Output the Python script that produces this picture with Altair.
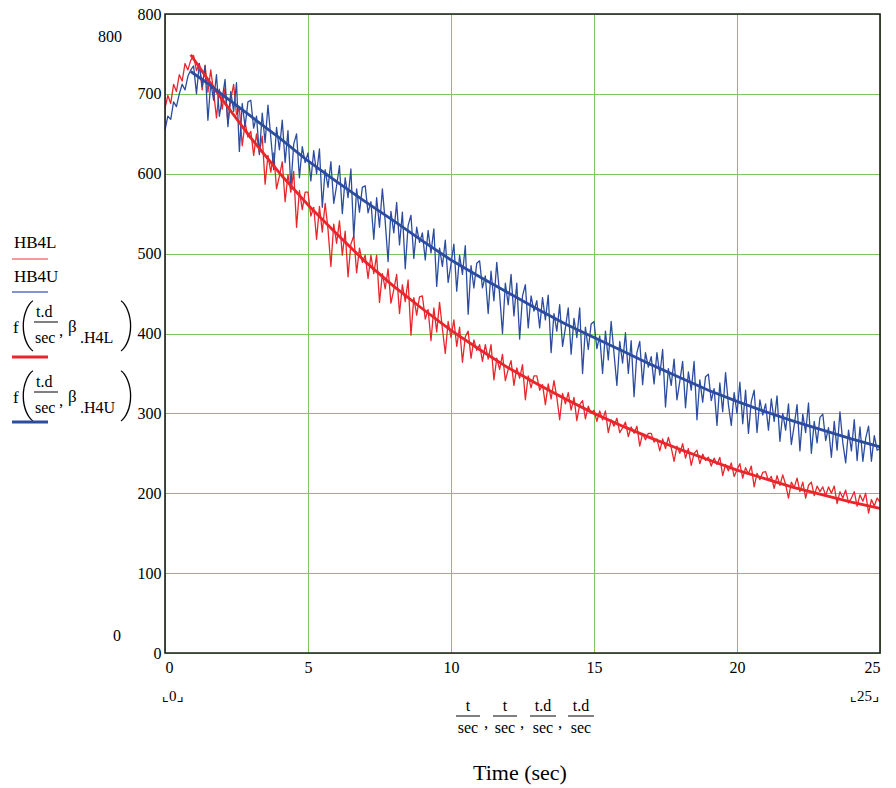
import altair as alt
import pandas as pd
import numpy as np

# ---------------- data ----------------
# measured samples, every 0.1 s from 0 to 25 s
t_sample = np.round(np.arange(251) * 0.1, 1)

hb4l = [
    682, 698, 688, 712, 703, 724, 716, 738, 730, 742,
    748, 729, 738, 705, 736, 702, 730, 702, 670, 706,
    681, 708, 663, 693, 712, 674, 682, 635, 664, 646,
    653, 623, 650, 626, 647, 587, 623, 602, 626, 581,
    597, 615, 565, 599, 577, 603, 533, 579, 555, 577,
    577, 547, 558, 518, 559, 527, 563, 530, 484, 537,
    513, 541, 498, 528, 471, 512, 522, 476, 507, 489,
    498, 469, 498, 475, 498, 439, 475, 456, 481, 438,
    455, 474, 425, 461, 440, 467, 398, 445, 423, 446,
    447, 418, 430, 391, 432, 402, 439, 406, 375, 415,
    395, 417, 384, 408, 364, 396, 403, 369, 392, 379,
    386, 365, 386, 368, 386, 342, 369, 355, 374, 341,
    355, 366, 335, 357, 344, 361, 317, 347, 332, 347,
    347, 329, 336, 311, 337, 318, 341, 320, 292, 325,
    312, 326, 304, 320, 291, 311, 316, 293, 309, 300,
    304, 290, 303, 292, 303, 276, 292, 284, 294, 276,
    282, 289, 271, 283, 275, 284, 259, 275, 267, 275,
    275, 264, 268, 253, 268, 256, 270, 257, 240, 259,
    250, 262, 244, 256, 235, 250, 254, 237, 249, 241,
    245, 234, 244, 236, 245, 222, 236, 228, 238, 221,
    229, 237, 219, 232, 224, 234, 208, 225, 217, 226,
    227, 216, 221, 206, 222, 210, 223, 211, 194, 214,
    207, 219, 202, 214, 194, 210, 214, 197, 209, 202,
    208, 197, 208, 200, 209, 187, 202, 194, 204, 188,
    194, 202, 184, 198, 190, 200, 175, 192, 184, 194,
    189,
]

hb4u = [
    655, 672, 668, 690, 684, 700, 712, 705, 722, 730,
    735, 700, 738, 709, 735, 667, 714, 692, 724, 672,
    694, 718, 659, 703, 678, 714, 628, 688, 659, 690,
    692, 657, 672, 624, 676, 639, 686, 645, 605, 658,
    630, 667, 614, 654, 583, 637, 650, 595, 634, 614,
    626, 591, 629, 600, 631, 558, 605, 583, 615, 563,
    585, 610, 550, 595, 570, 606, 520, 581, 552, 583,
    585, 551, 565, 518, 570, 533, 581, 540, 490, 553,
    526, 564, 511, 552, 481, 535, 548, 494, 533, 514,
    526, 492, 529, 501, 531, 459, 507, 484, 517, 464,
    487, 512, 453, 498, 474, 510, 424, 485, 457, 488,
    491, 457, 472, 425, 478, 441, 489, 449, 400, 463,
    436, 474, 422, 463, 393, 447, 461, 407, 447, 428,
    441, 407, 445, 417, 448, 376, 425, 403, 436, 384,
    407, 432, 374, 419, 395, 432, 350, 408, 380, 412,
    415, 381, 397, 350, 403, 367, 415, 375, 335, 390,
    363, 401, 350, 391, 321, 376, 390, 336, 376, 358,
    371, 337, 376, 348, 380, 308, 356, 335, 368, 317,
    340, 365, 307, 352, 329, 365, 292, 342, 314, 346,
    349, 316, 331, 285, 338, 302, 351, 311, 285, 326,
    300, 339, 287, 329, 275, 315, 329, 276, 317, 298,
    312, 279, 318, 290, 322, 265, 300, 279, 312, 261,
    285, 311, 253, 299, 276, 313, 250, 290, 263, 295,
    299, 266, 282, 245, 290, 254, 302, 263, 238, 279,
    253, 292, 241, 283, 240, 269, 284, 240, 272, 254,
    256,
]

# fitted model curves
t_fit = [0.9, 1.5, 2, 3, 4, 5, 6, 7, 8, 9, 10, 11, 12, 13, 14, 15, 16, 17,
         18, 19, 20, 21, 22, 23, 24, 25]
fit_h4l = [749, 718, 693, 645, 601, 561, 525, 490, 459, 431, 404, 380, 357,
           337, 318, 300, 284, 269, 255, 242, 229, 218, 207, 198, 189, 181]
fit_h4u = [728, 713, 699, 672, 645, 616, 590, 565, 541, 516, 492, 471, 451,
           431, 412, 395, 378, 361, 345, 329, 315, 302, 290, 279, 268, 258]

x_ticks = [0, 5, 10, 15, 20, 25]
y_ticks = [0, 100, 200, 300, 400, 500, 600, 700, 800]

# ---------------- layout / style ----------------
OX, OY = 165, 14          # plot origin in the page
W, H = 715, 639           # plot area size
SERIF = '"Liberation Serif", "Times New Roman", serif'
SERIF_FB = '"Liberation Serif", "DejaVu Serif", "DejaVu Sans", serif'
THIN = 'Roboto, "Noto Sans", sans-serif'
RED = "#e8262b"
BLUE = "#2b4c9f"
RED_LIGHT = "#f07a7a"
BLUE_LIGHT = "#5470c0"
GRID = "#7fc45e"

df_l = pd.DataFrame({"t": t_sample, "v": hb4l})
df_u = pd.DataFrame({"t": t_sample, "v": hb4u})
df_fl = pd.DataFrame({"t": t_fit, "v": fit_h4l})
df_fu = pd.DataFrame({"t": t_fit, "v": fit_h4u})

xs = alt.Scale(domain=[0, 25], nice=False, zero=False)
ys = alt.Scale(domain=[0, 800], nice=False)


def x_axis():
    return alt.Axis(values=x_ticks, title=None, grid=True, gridColor=GRID,
                    gridOpacity=1, gridWidth=1, ticks=False, domain=False,
                    labelFont=SERIF, labelFontSize=16, labelColor="black",
                    labelPadding=6, labelAngle=0)


def y_axis():
    return alt.Axis(values=y_ticks, title=None, grid=True, gridColor=GRID,
                    gridOpacity=1, gridWidth=1, ticks=False, domain=False,
                    labelFont=SERIF, labelFontSize=16, labelColor="black",
                    labelPadding=4)


def series(df, color, width):
    return alt.Chart(df).mark_line(color=color, strokeWidth=width,
                                   strokeJoin="round").encode(
        x=alt.X("t:Q", scale=xs, axis=x_axis()),
        y=alt.Y("v:Q", scale=ys, axis=y_axis()),
        order="t:Q",
    )


one = pd.DataFrame({"k": [0]})
base = alt.Chart(one)


def T(s, x, y, size=17, align="left", baseline="alphabetic", font=SERIF,
      weight="normal"):
    return base.mark_text(text=s, align=align, baseline=baseline,
                          fontSize=size, font=font, fontWeight=weight,
                          color="black").encode(
        x=alt.value(x - OX), y=alt.value(y - OY))


def R(x1, x2, y, color="black", width=1.0):
    return base.mark_rule(color=color, strokeWidth=width).encode(
        x=alt.value(x1 - OX), x2=alt.value(x2 - OX), y=alt.value(y - OY))


layers = [
    series(df_l, RED, 1.3),
    series(df_u, BLUE, 1.3),
    series(df_fl, RED, 2.8),
    series(df_fu, BLUE, 2.8),
    # frame
    base.mark_rect(fill=None, stroke="#1e1e1e", strokeWidth=1.6).encode(
        x=alt.value(0), x2=alt.value(W), y=alt.value(0), y2=alt.value(H)),
]

# legend (Mathcad-style trace labels)
layers += [
    T("HB4L", 14, 248), R(12, 48, 259, RED_LIGHT, 1.6),
    T("HB4U", 14, 282), R(12, 48, 292, BLUE_LIGHT, 1.6),
]
for dy, sub in [(0, ".H4L"), (70, ".H4U")]:
    layers += [
        T("f", 13, 333 + dy),
        T("(", 19, 325 + dy, size=50, baseline="middle", font=THIN, weight=100),
        T("t.d", 36, 317 + dy, size=16),
        R(34, 58, 322 + dy),
        T("sec", 35, 343 + dy, size=16),
        T(",", 59, 336 + dy),
        T("β", 68, 332 + dy),
        T(sub, 80, 343 + dy, size=16),
        T(")", 120, 325 + dy, size=50, baseline="middle", font=THIN, weight=100),
    ]
layers += [R(12, 48, 357, RED, 3), R(12, 48, 422, BLUE, 3)]

# axis limit annotations
layers += [
    T("800", 98, 42, size=16),
    T("0", 113, 641, size=16),
    T("⌞0⌟", 162, 701, size=15, font=SERIF_FB),
    T("⌞25⌟", 850, 701, size=15, font=SERIF_FB),
]

# x-axis expression labels
nums = [("t", 468), ("t", 505), ("t.d", 543), ("t.d", 581)]
bars = [(456, 480), (493, 517), (530, 556), (568, 594)]
for (s, cx), (b1, b2) in zip(nums, bars):
    layers += [
        T(s, cx, 711, size=16, align="center"),
        R(b1, b2, 716),
        T("sec", (b1 + b2) / 2, 733, size=16, align="center"),
    ]
for cx in [486, 522, 560]:
    layers.append(T(",", cx, 728, size=17, align="center"))

layers.append(T("Time (sec)", 520, 780, size=22, align="center"))

chart = alt.layer(*layers).properties(
    width=W, height=H,
    padding={"left": OX, "top": OY, "right": 896 - OX - W, "bottom": 788 - OY - H},
    autosize=alt.AutoSizeParams(type="none"),
    background="white",
).configure_view(stroke=None)

chart.save("out.html", embed_options={"renderer": "svg", "actions": False})
